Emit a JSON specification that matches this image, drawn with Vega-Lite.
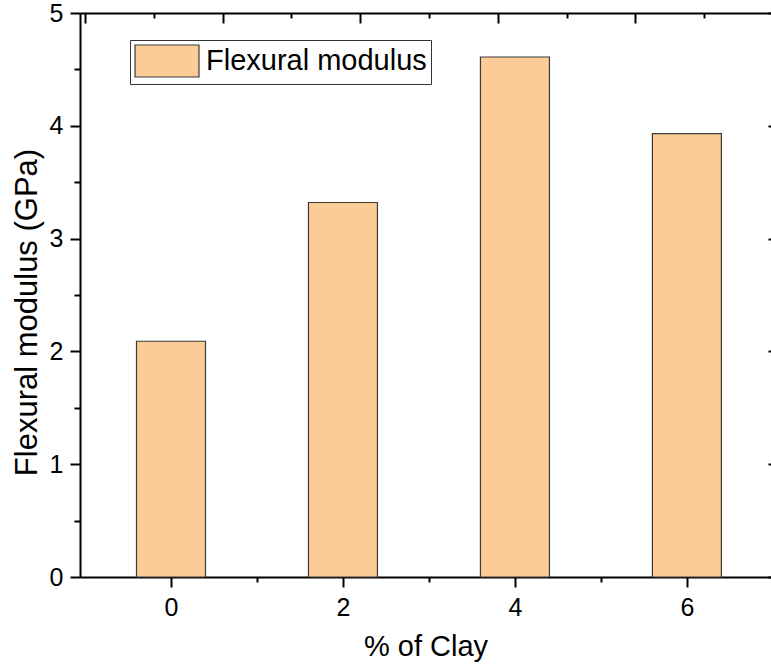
{
  "$schema": "https://vega.github.io/schema/vega-lite/v6.json",
  "autosize": "none",
  "width": 691,
  "height": 564,
  "padding": {"left": 80, "top": 13, "right": 0, "bottom": 88},
  "background": "white",
  "config": {
    "view": {"stroke": null},
    "font": "Liberation Sans",
    "axis": {
      "labelFont": "Liberation Sans",
      "titleFont": "Liberation Sans",
      "labelColor": "#000",
      "titleColor": "#000",
      "domainColor": "#000",
      "tickColor": "#000",
      "domainWidth": 2,
      "tickWidth": 2,
      "grid": false,
      "labelFontSize": 25,
      "titleFontSize": 29,
      "titleFontWeight": "normal"
    }
  },
  "data": {
    "values": [
      {"clay": 0, "modulus": 2.09},
      {"clay": 2, "modulus": 3.32},
      {"clay": 4, "modulus": 4.61},
      {"clay": 6, "modulus": 3.93}
    ]
  },
  "resolve": {"axis": {"x": "independent", "y": "independent"}},
  "layer": [
    {
      "mark": {"type": "bar", "size": 69, "stroke": "#3a3a3a", "strokeWidth": 1.2},
      "encoding": {
        "x": {
          "field": "clay",
          "type": "quantitative",
          "scale": {"domain": [-1, 6.92], "nice": false, "zero": false},
          "axis": {
            "orient": "bottom",
            "title": "% of Clay",
            "values": [0, 1, 2, 3, 4, 5, 6],
            "labelExpr": "datum.value % 2 === 0 ? format(datum.value, 'd') : ''",
            "tickSize": {"condition": {"test": "datum.value % 2 === 0", "value": 10}, "value": 5},
            "labelPadding": 8,
            "titlePadding": 12
          }
        },
        "y": {
          "field": "modulus",
          "type": "quantitative",
          "scale": {"domain": [0, 5], "nice": false},
          "axis": {
            "orient": "left",
            "title": "Flexural modulus (GPa)",
            "titleFontSize": 31,
            "titleY": 299,
            "values": [0, 0.5, 1, 1.5, 2, 2.5, 3, 3.5, 4, 4.5, 5],
            "labelExpr": "datum.value % 1 === 0 ? format(datum.value, 'd') : ''",
            "tickSize": {"condition": {"test": "datum.value % 1 === 0", "value": 10}, "value": 6},
            "labelPadding": 7,
            "titlePadding": 6
          }
        },
        "color": {
          "datum": "Flexural modulus",
          "type": "nominal",
          "scale": {"range": ["#FBCB98"]},
          "legend": {
            "title": null,
            "orient": "none",
            "legendX": 50,
            "legendY": 27,
            "padding": 4,
            "strokeColor": "#333",
            "fillColor": "white",
            "symbolType": "M-2,-1H2V1H-2Z",
            "symbolSize": 1024,
            "symbolOffset": 16,
            "symbolStrokeColor": "#3a3a3a",
            "symbolStrokeWidth": 1.2,
            "symbolOpacity": 1,
            "labelFont": "Liberation Sans",
            "labelFontSize": 29,
            "labelColor": "#000",
            "labelOffset": 22,
            "labelLimit": 400
          }
        }
      }
    },
    {
      "mark": {"type": "bar", "size": 69, "opacity": 0},
      "encoding": {
        "x": {
          "field": "clay",
          "type": "quantitative",
          "axis": {
            "orient": "top",
            "title": null,
            "labels": false,
            "values": [-1, -0.2, 0.6, 1.4, 2.2, 3.0, 3.8, 4.6, 5.4, 6.2, 7],
            "tickSize": {"condition": {"test": "abs((datum.value + 1) / 1.6 - round((datum.value + 1) / 1.6)) < 0.01", "value": -10}, "value": -5}
          }
        },
        "y": {
          "field": "modulus",
          "type": "quantitative",
          "axis": {
            "orient": "right",
            "title": null,
            "labels": false,
            "domain": false,
            "offset": 7,
            "values": [0, 1, 2, 3, 4, 5],
            "tickSize": -10
          }
        }
      }
    }
  ]
}
